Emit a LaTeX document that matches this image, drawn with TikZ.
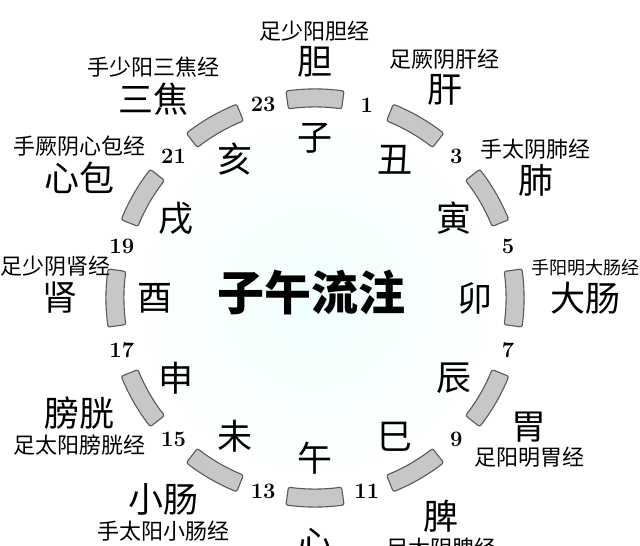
\documentclass[tikz,border=0pt]{standalone}
\usepackage{fontspec}
\newfontfamily\cjk{Noto Sans CJK SC}
\usetikzlibrary{positioning}

\tikzset{
    bar/.style={draw=black!65,fill=black!22,line width=1.1pt,rounded corners=2pt},
    branch/.style={font=\cjk\fontsize{35}{35}\selectfont},
    organ/.style={font=\cjk\fontsize{35}{35}\selectfont},
    meridian/.style={font=\cjk\fontsize{22}{22}\selectfont},
    hour/.style={font=\bfseries\fontsize{22}{22}\selectfont},
}

\begin{document}
\begin{tikzpicture}[x=1pt,y=1pt
    , every node/.style={inner sep=0pt,node distance=5pt}
]
    \useasboundingbox (-315,-248) rectangle (325,298);
    \edef\r{200}
    \shade[inner color=green!6!cyan!6,outer color=white] (0,0) circle (190);

    \node[font=\cjk\bfseries\fontsize{47}{47}\selectfont] (title) at (-3,5) {子午流注};

    % Branches and their bars.
    \foreach \b[count=\k from 0] in {子,丑,寅,卯,辰,巳,午,未,申,酉,戌,亥}
    {
        \pgfmathsetmacro\a{90-30*\k}
        \draw[bar] ({\a-8}:{\r-9}) arc[start angle=\a-8,end angle=\a+8,radius=\r-9]
            -- ({\a+8}:{\r+9}) arc[start angle=\a+8,end angle=\a-8,radius=\r+9] -- cycle;
        \node[branch] (branch\k) at (\a:160) {\b};
    }

    % Hours.
    \foreach \h[count=\k from 0] in {1,3,...,23}
        \node[hour] (hour\h) at ({75-30*\k}:\r) {\h};

    % Organs.
    \foreach \n/\a/\d/\t in {gall/90/236/胆,liver/58/245/肝,lung/28/250/肺,
        colon/0/270/大肠,stomach/-31/250/胃,spleen/-60/252/脾,heart/-90/245/心,
        smallint/-127/252/小肠,bladder/-154/262/膀胱,kidney/180/255/肾,
        pericard/153/264/心包,sanjiao/129/256/三焦}
        \node[organ] (\n) at (\a:\d) {\t};

    % Meridians.
    \node[meridian,above=of gall] (gallm) {足少阳胆经};
    \node[meridian,above=of liver] (liverm) {足厥阴肝经};
    \node[meridian,above=of lung] (lungm) {手太阴肺经};
    \node[meridian,above=of colon,font=\cjk\fontsize{18}{18}\selectfont] (colonm) {手阳明大肠经};
    \node[meridian,below=of stomach] (stomachm) {足阳明胃经};
    \node[meridian,below=of spleen] (spleenm) {足太阴脾经};
    \node[meridian,below=of smallint] (smallintm) {手太阳小肠经};
    \node[meridian,below=of bladder] (bladderm) {足太阳膀胱经};
    \node[meridian,above=of kidney,xshift=-4pt] (kidneym) {足少阴肾经};
    \node[meridian,above=of pericard] (pericardm) {手厥阴心包经};
    \node[meridian,above=of sanjiao] (sanjiaom) {手少阳三焦经};

\end{tikzpicture}
\end{document}
